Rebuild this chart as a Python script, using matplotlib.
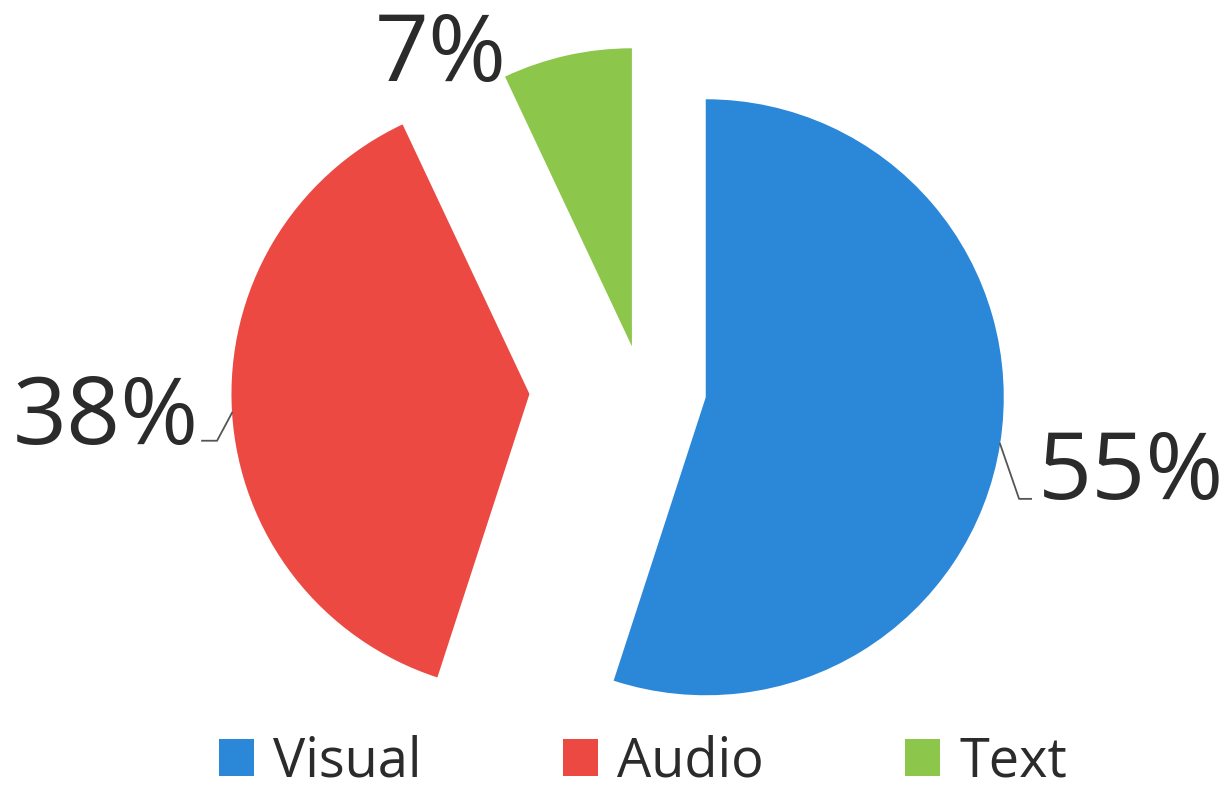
import matplotlib.pyplot as plt
import numpy as np

W, H = 1229, 792

labels = ["Visual", "Audio", "Text"]
shares = [55, 38, 7]
pct_labels = ["55%", "38%", "7%"]
colors = ["#2B87D8", "#EC4943", "#8CC64B"]
explode_frac = [0.22, 0.375, 0.14]

plt.rcParams["font.family"] = ["Open Sans", "DejaVu Sans"]

fig = plt.figure(figsize=(W / 100, H / 100), dpi=100)
ax = fig.add_axes([0, 0, 1, 1])

R = 298
center = (641, H - 387)
wedges, _ = ax.pie(
    shares,
    colors=colors,
    explode=[f * R for f in explode_frac],
    startangle=90,
    counterclock=False,
    center=center,
    radius=R,
    wedgeprops=dict(linewidth=0),
)
ax.set_xlim(0, W)
ax.set_ylim(0, H)
ax.set_aspect("equal")
ax.axis("off")

# leader elbows (dx, dy in px from arc midpoint), text anchor offset, alignment
leaders = [
    [(19, -55), (31, -55)],
    [(-15, -28), (-30, -28)],
    [],
]
text_off = [(38, -55, "left"), (-33, -31, "right"), (-60, -26, "right")]

for w, lab, lead, (tx, ty, ha) in zip(wedges, pct_labels, leaders, text_off):
    tm = np.deg2rad((w.theta1 + w.theta2) / 2)
    px = w.center[0] + w.r * np.cos(tm)
    py = w.center[1] + w.r * np.sin(tm)
    if lead:
        xs = [px] + [px + d[0] for d in lead]
        ys = [py] + [py + d[1] for d in lead]
        ax.plot(xs, ys, color="#555555", lw=1.3)
    ax.text(px + tx, py + ty, lab, ha=ha, va="baseline", fontsize=68, color="#2b2b2b")

ax.legend(
    wedges,
    labels,
    loc="center",
    bbox_to_anchor=(643 / W, 1 - 762 / H),
    bbox_transform=fig.transFigure,
    ncol=3,
    frameon=False,
    fontsize=39,
    handlelength=0.65,
    handleheight=0.65,
    handletextpad=0.36,
    columnspacing=2.6,
    borderpad=0,
    borderaxespad=0,
    labelcolor="#2b2b2b",
)

fig.savefig("out.png", dpi=100)
